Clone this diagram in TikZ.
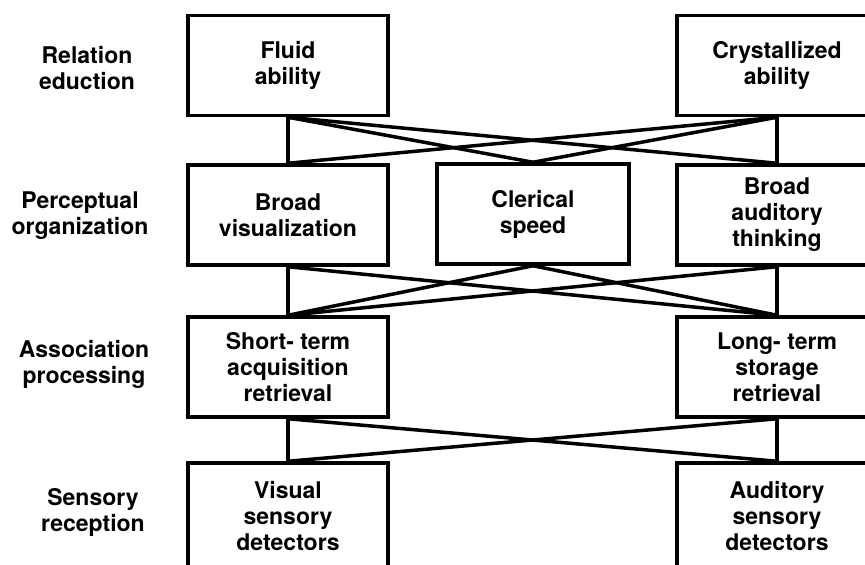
\documentclass[tikz,border=0pt]{standalone}
\usepackage{fontspec}
\setmainfont{TeX Gyre Heros}
\begin{document}
\begin{tikzpicture}[x=1pt,y=-1pt,
  box/.style={draw, line width=3.5pt, rectangle, minimum width=200pt, minimum height=100pt,
    align=center, inner sep=0pt, font=\fontsize{23}{26}\selectfont\bfseries},
  lbl/.style={align=center, inner sep=0pt, font=\fontsize{23}{26}\selectfont\bfseries},
  link/.style={line width=3.5pt, line cap=round}]
\fill[white] (0,0) rectangle (865,565);
\useasboundingbox (0,0) rectangle (865,565);
\clip (0,0) rectangle (865,565);

% level labels
\node[lbl] (l1) at (87,68) {Relation\\eduction};
\node[lbl] (l2) at (80,216) {Perceptual\\organization};
\node[lbl] (l3) at (84,364) {Association\\processing};
\node[lbl] (l4) at (93,512) {Sensory\\reception};

% boxes
\node[box] (fluid) at (288,65.5) {Fluid\\ability};
\node[box] (cryst) at (777,65.5) {Crystallized\\ability};
\node[box] (bvis) at (288,215) {Broad\\visualization};
\node[box, minimum width=192pt] (cler) at (533,214) {Clerical\\speed};
\node[box] (baud) at (777,215) {Broad\\auditory\\thinking};
\node[box] (st) at (288,367) {Short- term\\acquisition\\retrieval};
\node[box] (lt) at (777,367) {Long- term\\storage\\retrieval};
\node[box, minimum height=106pt] (vis) at (288,516) {Visual\\sensory\\detectors};
\node[box, minimum height=106pt] (aud) at (777,516) {Auditory\\sensory\\detectors};

% connectors row 1 -> row 2
\draw[link] (fluid.south) -- (bvis.north);
\draw[link] (fluid.south) -- (cler.north);
\draw[link] (fluid.south) -- (baud.north);
\draw[link] (cryst.south) -- (bvis.north);
\draw[link] (cryst.south) -- (cler.north);
\draw[link] (cryst.south) -- (baud.north);

% row 2 -> row 3
\draw[link] (bvis.south) -- (st.north);
\draw[link] (bvis.south) -- (lt.north);
\draw[link] (cler.south) -- (st.north);
\draw[link] (cler.south) -- (lt.north);
\draw[link] (baud.south) -- (st.north);
\draw[link] (baud.south) -- (lt.north);

% row 3 -> row 4
\draw[link] (st.south) -- (vis.north);
\draw[link] (st.south) -- (aud.north);
\draw[link] (lt.south) -- (vis.north);
\draw[link] (lt.south) -- (aud.north);
\end{tikzpicture}
\end{document}
